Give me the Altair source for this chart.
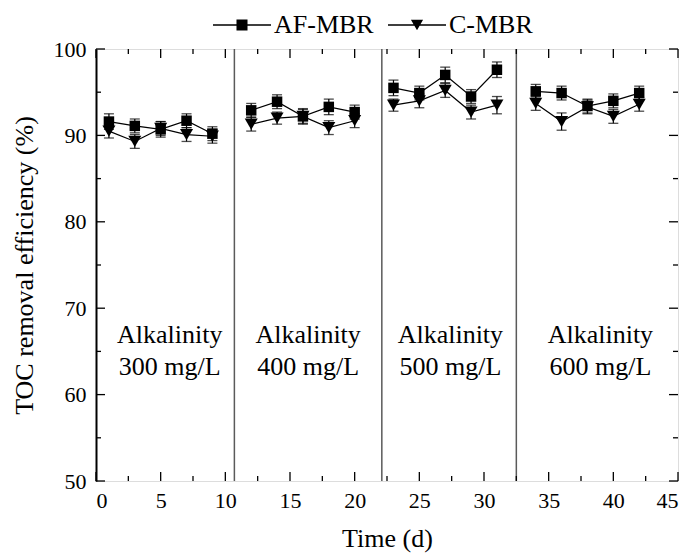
import altair as alt
import pandas as pd

# ---- data ----
times = [1, 3, 5, 7, 9, 12, 14, 16, 18, 20, 23, 25, 27, 29, 31, 34, 36, 38, 40, 42]
phase = [0] * 5 + [1] * 5 + [2] * 5 + [3] * 5
af_vals = [91.6, 91.1, 90.7, 91.7, 90.2, 92.9, 93.9, 92.2, 93.3, 92.7,
           95.5, 94.9, 97.0, 94.5, 97.6, 95.1, 94.9, 93.4, 94.0, 94.9]
af_err = [0.9, 0.8, 0.9, 0.8, 0.8, 0.8, 0.8, 0.9, 0.9, 0.8,
          0.9, 0.8, 0.9, 0.8, 0.9, 0.8, 0.8, 0.8, 0.8, 0.8]
c_vals = [90.5, 89.3, 90.8, 90.1, 89.9, 91.3, 92.0, 92.2, 90.9, 91.7,
          93.5, 94.0, 95.2, 92.7, 93.5, 93.7, 91.6, 93.3, 92.2, 93.6]
c_err = [0.8, 0.8, 0.8, 0.8, 0.8, 0.8, 0.7, 0.8, 0.8, 0.8,
         0.7, 0.8, 0.8, 0.8, 1.0, 0.8, 1.0, 0.8, 0.8, 0.8]
series_names = ["AF-MBR", "C-MBR"]

sep_x = [10.7, 22.1, 32.5]
label_x = [5.7, 16.4, 27.4, 39.0]
label_line1 = ["Alkalinity", "Alkalinity", "Alkalinity", "Alkalinity"]
label_line2 = ["300 mg/L", "400 mg/L", "500 mg/L", "600 mg/L"]
label_y1 = 66.0
label_y2 = 62.3

y_major = [50, 60, 70, 80, 90, 100]
y_minor = [55, 65, 75, 85, 95]
x_major = [0, 5, 10, 15, 20, 25, 30, 35, 40, 45]
x_minor = [2.5, 7.5, 12.5, 17.5, 22.5, 27.5, 32.5, 37.5, 42.5]

# ---- tables ----
rows = []
for t, p, v, e in zip(times, phase, af_vals, af_err):
    rows.append({"time": t, "phase": p, "series": "AF-MBR", "value": v, "lo": v - e, "hi": v + e})
for t, p, v, e in zip(times, phase, c_vals, c_err):
    rows.append({"time": t, "phase": p, "series": "C-MBR", "value": v, "lo": v - e, "hi": v + e})
df = pd.DataFrame(rows)

labels = pd.DataFrame(
    [{"time": x, "value": label_y1, "t": a} for x, a in zip(label_x, label_line1)]
    + [{"time": x, "value": label_y2, "t": b} for x, b in zip(label_x, label_line2)]
)

W, H = 582, 432
FONT = "Liberation Serif"
xs = alt.Scale(domain=[0, 45], nice=False, zero=False)
ys = alt.Scale(domain=[50, 100], nice=False, zero=False)

x_axis = alt.Axis(values=x_major, ticks=False, grid=False, domain=False,
                  labelFont=FONT, labelFontSize=22, labelColor="black", labelPadding=9,
                  labelAngle=0, title="Time (d)", titleFont=FONT, titleFontSize=26,
                  titleFontWeight="normal", titleColor="black", titlePadding=14)
y_axis = alt.Axis(values=y_major, ticks=False, grid=False, domain=True, domainColor="black",
                  domainWidth=2, labelFont=FONT, labelFontSize=22, labelColor="black",
                  labelPadding=10, title="TOC removal efficiency (%)", titleFont=FONT,
                  titleFontSize=26, titleFontWeight="normal", titleColor="black", titlePadding=16)

def X(field):
    return alt.X(field, type="quantitative", scale=xs, axis=x_axis)

def Y(field):
    return alt.Y(field, type="quantitative", scale=ys, axis=y_axis)

base = alt.Chart(df)

lines = base.mark_line(color="black", strokeWidth=1.2).encode(
    x=X("time"), y=Y("value"), detail=["series:N", "phase:N"])

err_rule = base.mark_rule(color="black", strokeWidth=1.2).encode(
    x=X("time"), y=Y("lo"), y2="hi:Q")
err_lo = base.mark_tick(color="black", orient="horizontal", size=10, thickness=1.3).encode(
    x=X("time"), y=Y("lo"))
err_hi = base.mark_tick(color="black", orient="horizontal", size=10, thickness=1.3).encode(
    x=X("time"), y=Y("hi"))

pts_af = base.transform_filter(alt.datum.series == "AF-MBR").mark_point(
    shape="square", filled=True, color="black", size=110, opacity=1).encode(
    x=X("time"), y=Y("value"))
pts_c = base.transform_filter(alt.datum.series == "C-MBR").mark_point(
    shape="triangle-down", filled=True, color="black", size=170, opacity=1).encode(
    x=X("time"), y=Y("value"))

seps = alt.Chart(pd.DataFrame({"time": sep_x})).mark_rule(color="#5a5a5a", strokeWidth=1.5).encode(
    x=X("time"))

txt = alt.Chart(labels).mark_text(font=FONT, fontSize=26, color="black", align="center",
                                  baseline="alphabetic").encode(
    x=X("time"), y=Y("value"), text="t:N")

# inward ticks on all four sides
def yticks(vals, length, right=False):
    x0, x1 = (W - length, W) if right else (0, length)
    return alt.Chart(pd.DataFrame({"value": vals})).mark_rule(color="black", strokeWidth=1.3).encode(
        y=Y("value"), x=alt.value(x0), x2=alt.value(x1))

def xticks(vals, length, top=False):
    y0, y1 = (0, length) if top else (H - length, H)
    return alt.Chart(pd.DataFrame({"time": vals})).mark_rule(color="black", strokeWidth=1.3).encode(
        x=X("time"), y=alt.value(y0), y2=alt.value(y1))

ticks = [yticks(y_major, 9), yticks(y_minor, 5), yticks(y_major, 9, True), yticks(y_minor, 5, True),
         xticks(x_major, 9), xticks(x_minor, 5), xticks(x_major, 9, True), xticks(x_minor, 5, True)]

# legend: a line with the marker through it (drawn as filled shapes)
path_sq = "M-1,-0.024L1,-0.024L1,0.024L-1,0.024ZM-0.19,-0.19L0.19,-0.19L0.19,0.19L-0.19,0.19Z"
path_tri = "M-1,-0.024L1,-0.024L1,0.024L-1,0.024ZM-0.21,-0.18L0.21,-0.18L0,0.18Z"
leg = base.transform_filter("false").mark_point(
    filled=True, color="black", size=3364, opacity=1).encode(
    shape=alt.Shape("series:N", scale=alt.Scale(domain=series_names, range=[path_sq, path_tri]),
                    legend=alt.Legend(orient="none", legendX=117, legendY=-53, direction="horizontal",
                                      title=None, labelFont=FONT, labelFontSize=26, labelColor="black",
                                      symbolSize=3364, labelOffset=3, columnPadding=14, padding=0,
                                      symbolFillColor="black", symbolStrokeWidth=0, symbolOpacity=1)))

chart = alt.layer(lines, seps, err_rule, err_lo, err_hi, pts_af, pts_c, txt, *ticks, leg).properties(
    width=W, height=H,
    autosize=alt.AutoSizeParams(type="none"),
    padding={"left": 96, "top": 49, "right": 13, "bottom": 73},
).configure_view(stroke="black", strokeWidth=1.5).configure(background="white")

chart.save("out.html", embed_options={"renderer": "svg", "actions": False})
